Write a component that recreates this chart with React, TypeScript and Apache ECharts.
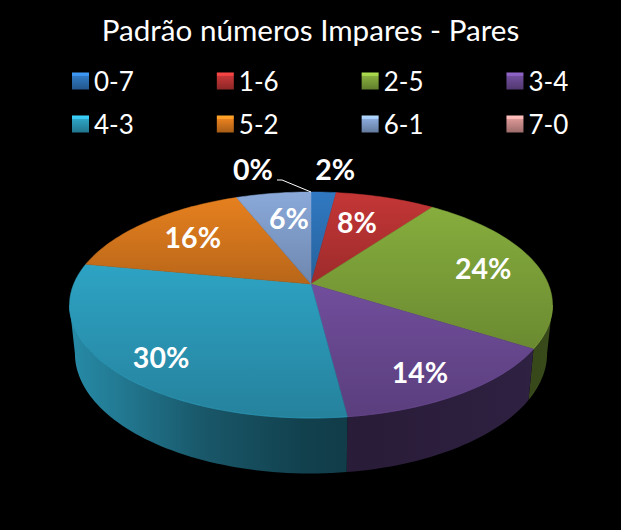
import React, { useEffect, useRef } from "react";
import * as echarts from "echarts";

const titleText = "Padrão números Impares - Pares";
const categories = ["0-7", "1-6", "2-5", "3-4", "4-3", "5-2", "6-1", "7-0"];
const percents = [2, 8, 24, 14, 30, 16, 6, 0];
const colors = ["#3079c2", "#c43636", "#86ad3d", "#714e9c", "#2ea3c4", "#e6801f", "#8aa9da", "#d99694"];

// Label placement relative to each slice's mid-angle anchor
const labelNudges = [[15, -48], [-8.5, 1.5], [13, -2], [9, 16], [-17, 16], [0, -2], [5.5, 0.5], [-58, -47]];

const FONT = "Lato, Carlito, sans-serif";
const W = 621;
const H = 530;

// Perspective projection of the pie's disc
const CX = 311;
const K = 0.1858;
const TOP = { y0: 284, a: 109.1, b: 237.3 };
const BOTTOM = { y0: 331, a: 116, b: 232 };
const SILHOUETTE = (Math.acos(-K) * 180) / Math.PI;

function project(deg: number, r: number, p: { y0: number; a: number; b: number }): number[] {
  const t = (deg * Math.PI) / 180;
  const u = Math.sin(t) * r;
  const v = Math.cos(t) * r;
  const w = 1 + K * v;
  return [CX + (p.b * u) / w, p.y0 - (p.a * v) / w];
}

function shade(hex: string, f: number): string {
  const n = parseInt(hex.slice(1), 16);
  const c = [(n >> 16) & 255, (n >> 8) & 255, n & 255].map((x) => Math.min(255, Math.round(x * f)));
  return `rgb(${c[0]},${c[1]},${c[2]})`;
}

function sweep(start: number, end: number): number[] {
  const out: number[] = [];
  const n = Math.max(1, Math.ceil((end - start) / 1.5));
  for (let i = 0; i <= n; i++) out.push(start + ((end - start) * i) / n);
  return out;
}

function App() {
  const ref = useRef<HTMLDivElement>(null);
  useEffect(() => {
    const chart = echarts.init(ref.current!, null, { renderer: "svg" });
    const total = percents.reduce((s, v) => s + v, 0);
    let cum = 0;
    const series = categories.map((name, i) => {
      const startDeg = (cum / total) * 360;
      cum += percents[i];
      const endDeg = (cum / total) * 360;
      const color = colors[i];
      return {
        type: "custom",
        name,
        coordinateSystem: "none",
        silent: true,
        data: [percents[i]],
        itemStyle: { color },
        renderItem: (_p: any, api: any) => {
          const value = api.value(0);
          const children: any[] = [];
          if (value > 0) {
            const angles = sweep(startDeg, endDeg);
            const fs = Math.max(startDeg, SILHOUETTE);
            const fe = Math.min(endDeg, 360 - SILHOUETTE);
            if (fe > fs) {
              const front = sweep(fs, fe);
              const pts = [
                ...front.map((d) => project(d, 1, TOP)),
                ...front.slice().reverse().map((d) => project(d, 1, BOTTOM)),
              ];
              children.push({
                type: "polygon",
                z2: 1,
                shape: { points: pts },
                style: {
                  fill: new echarts.graphic.LinearGradient(
                    70, 0, 553, 0,
                    [
                      { offset: 0, color: shade(color, 0.85) },
                      { offset: 0.125, color: shade(color, 0.72) },
                      { offset: 0.27, color: shade(color, 0.54) },
                      { offset: 0.48, color: shade(color, 0.4) },
                      { offset: 0.6, color: shade(color, 0.36) },
                      { offset: 1, color: shade(color, 0.42) },
                    ],
                    true
                  ),
                },
              });
              children.push({
                type: "polyline",
                z2: 6,
                shape: { points: front.map((d) => project(d, 1, TOP)) },
                style: { fill: "none", stroke: shade(color, 1.05), lineWidth: 1, opacity: 0.5 },
              });
            }
            const fill = new echarts.graphic.LinearGradient(0, 0, 0, 1, [
              { offset: 0, color: color },
              { offset: 1, color: shade(color, 0.8) },
            ]);
            children.push({
              type: "polygon",
              z2: 5,
              shape: { points: [[CX, TOP.y0], ...angles.map((d) => project(d, 1, TOP))] },
              style: { fill, stroke: fill, lineWidth: 0.5 },
            });
          } else {
            const rim = project(endDeg, 1, TOP);
            children.push({
              type: "polyline",
              z2: 7,
              shape: { points: [rim, [rim[0] - 29, rim[1] - 12], [rim[0] - 34, rim[1] - 12]] },
              style: { fill: "none", stroke: "#ffffff", lineWidth: 1 },
            });
          }
          const anchor = project((startDeg + endDeg) / 2, 0.7, TOP);
          children.push({
            type: "text",
            z2: 10,
            style: {
              text: `${value}%`,
              x: anchor[0] + labelNudges[i][0],
              y: anchor[1] + labelNudges[i][1],
              fill: "#ffffff",
              fontFamily: FONT,
              fontWeight: "bold",
              fontSize: 28.5,
              align: "center",
              verticalAlign: "middle",
            },
          });
          return { type: "group", children };
        },
      };
    });

    const legendData = (names: string[], offset: number) =>
      names.map((name, j) => {
        const c = colors[offset + j];
        return {
          name,
          itemStyle: {
            color: new echarts.graphic.LinearGradient(0, 0, 0, 1, [
              { offset: 0, color: shade(c, 1.3) },
              { offset: 0.22, color: shade(c, 1.2) },
              { offset: 0.23, color: c },
              { offset: 1, color: shade(c, 0.72) },
            ]),
          },
        };
      });
    const legendBase = {
      orient: "horizontal",
      left: 67,
      itemWidth: 17,
      itemHeight: 17,
      itemGap: 83,
      icon: "rect",
      selectedMode: false,
      textStyle: { color: "#ffffff", fontFamily: FONT, fontSize: 26 },
    };

    chart.setOption({
      animation: false,
      backgroundColor: "#000000",
      title: {
        text: titleText,
        left: "center",
        top: 9,
        textStyle: { color: "#ffffff", fontFamily: FONT, fontWeight: "normal", fontSize: 29.6 },
      },
      legend: [
        { ...legendBase, top: 63, data: legendData(categories.slice(0, 4), 0) },
        { ...legendBase, top: 106, data: legendData(categories.slice(4), 4) },
      ],
      series,
    });
    return () => chart.dispose();
  }, []);
  return (
    <div
      ref={ref}
      style={{ position: "absolute", left: 0, top: 0, width: W, height: H, background: "#000" }}
    />
  );
}

export default App;
